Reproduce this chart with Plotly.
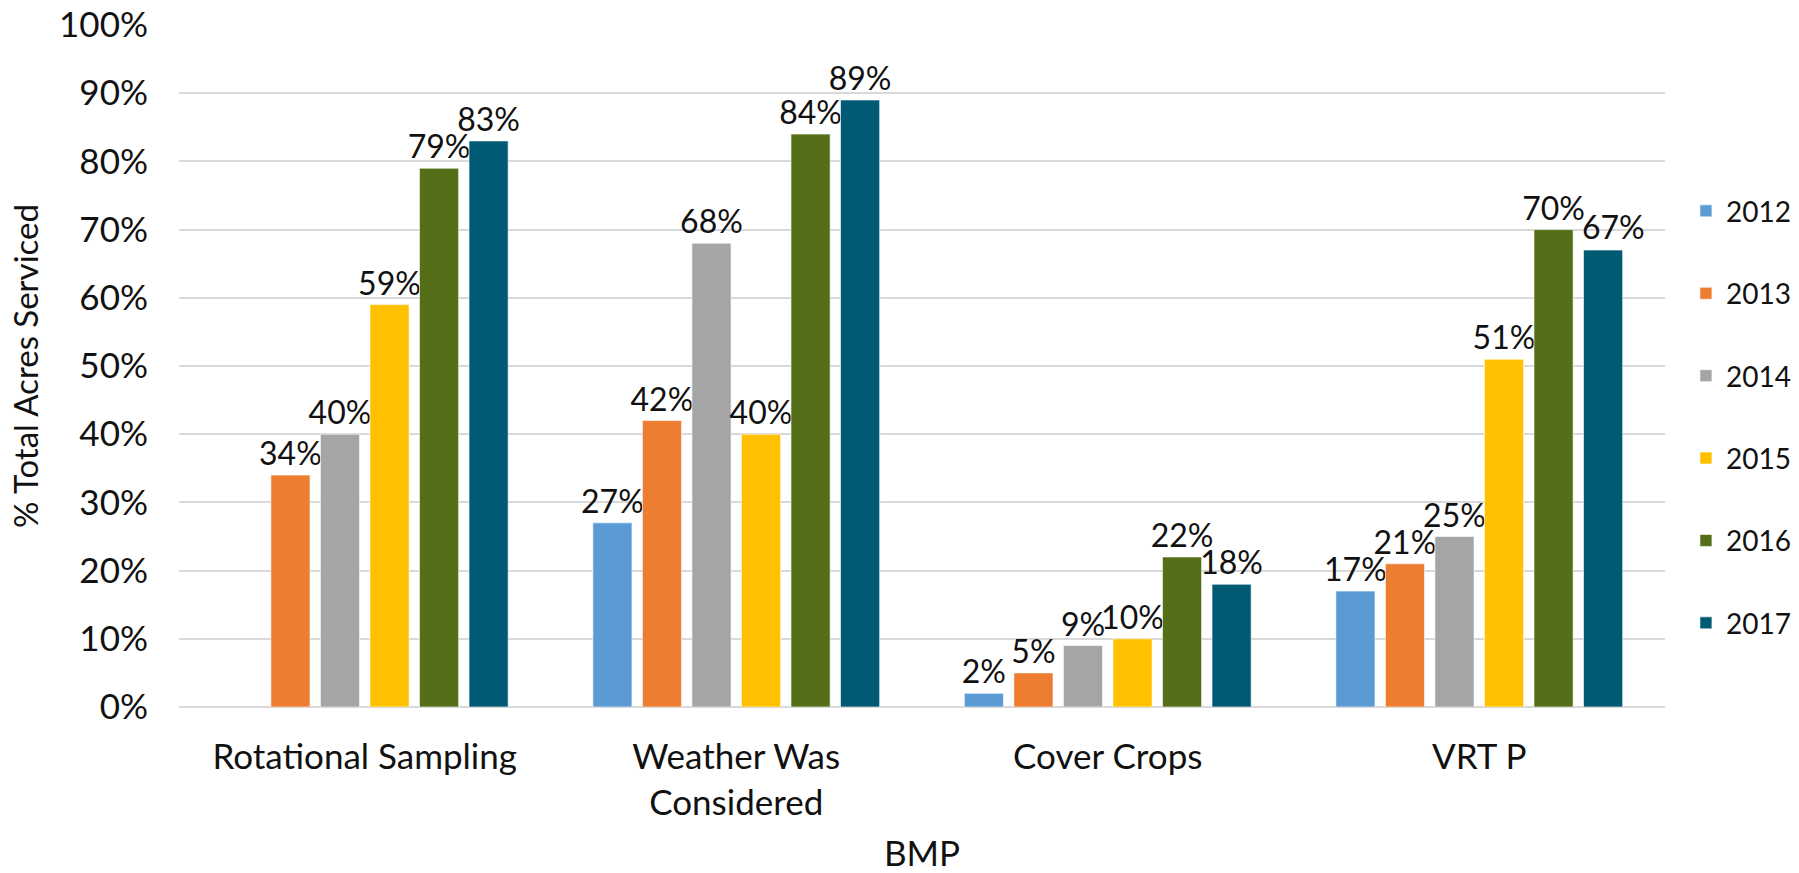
import plotly.graph_objects as go

# Share of total acres serviced, by BMP and survey year
categories = ["Rotational Sampling", "Weather Was<br>Considered", "Cover Crops", "VRT P"]
years = ["2012", "2013", "2014", "2015", "2016", "2017"]
share_2012 = [None, 0.27, 0.02, 0.17]
share_2013 = [0.34, 0.42, 0.05, 0.21]
share_2014 = [0.40, 0.68, 0.09, 0.25]
share_2015 = [0.59, 0.40, 0.10, 0.51]
share_2016 = [0.79, 0.84, 0.22, 0.70]
share_2017 = [0.83, 0.89, 0.18, 0.67]
y_ticks = [0, 0.1, 0.2, 0.3, 0.4, 0.5, 0.6, 0.7, 0.8, 0.9, 1.0]

series = [share_2012, share_2013, share_2014, share_2015, share_2016, share_2017]
colors = ["#5B9BD5", "#ED7D31", "#A5A5A5", "#FFC000", "#556F19", "#005A73"]

FONT = "Lato, 'Open Sans', sans-serif"
TXT = "#111111"

# bar layout: 4 categories, 6 bars each
BARGAP = 0.2
PLOT_L, PLOT_R = 179, 134
FIG_W = 1799
cat_px = (FIG_W - PLOT_L - PLOT_R) / len(categories)
slot_px = cat_px * (1 - BARGAP) / len(years)

fig = go.Figure()
for i, (year, vals, col) in enumerate(zip(years, series, colors)):
    # the VRT P 2017 label is nudged sideways so it clears the 2016 label
    labels = ["" if v is None else f"{v:.0%}" for v in vals]
    if year == "2017":
        labels[3] = ""
    fig.add_trace(go.Bar(
        name=year,
        x=categories,
        y=vals,
        marker=dict(color=col, line=dict(color="rgba(255,255,255,0.6)", width=1)),
        text=labels,
        texttemplate="%{text}",
        textposition="outside",
        constraintext="none",
        cliponaxis=False,
        textfont=dict(family=FONT, size=32, color=TXT),
        legendgroup=year,
        hoverinfo="skip",
    ))

# nudged label for VRT P, 2017
fig.add_annotation(
    x=categories[3], y=share_2017[3],
    text=f"{share_2017[3]:.0%}",
    showarrow=False,
    xanchor="center", yanchor="bottom",
    xshift=2.5 * slot_px + 10, yshift=2,
    font=dict(family=FONT, size=32, color=TXT),
)

fig.update_layout(
    width=FIG_W,
    height=873,
    margin=dict(l=PLOT_L, r=PLOT_R, t=25, b=166, autoexpand=False),
    paper_bgcolor="white",
    plot_bgcolor="white",
    barmode="group",
    bargap=BARGAP,
    bargroupgap=0.21,
    font=dict(family=FONT, size=33, color=TXT),
    legend=dict(
        x=1.0141, xanchor="left",
        y=0.425, yanchor="middle",
        font=dict(family=FONT, size=28, color=TXT),
        tracegroupgap=43,
        bgcolor="rgba(0,0,0,0)",
    ),
    xaxis=dict(
        title=dict(text="BMP", font=dict(family=FONT, size=35, color=TXT), standoff=20),
        tickfont=dict(family=FONT, size=35, color=TXT),
        showgrid=False,
        showline=False,
        ticks="",
        ticklabelstandoff=26,
        automargin=False,
    ),
    yaxis=dict(
        title=dict(text="% Total Acres Serviced", font=dict(family=FONT, size=33, color=TXT), standoff=10),
        range=[0, 1],
        tickvals=y_ticks,
        tickformat=".0%",
        tickfont=dict(family=FONT, size=35, color=TXT),
        showgrid=True,
        gridcolor="#D9D9D9",
        gridwidth=2,
        zeroline=True,
        zerolinecolor="#D9D9D9",
        zerolinewidth=2,
        showline=False,
        ticks="",
        ticklabelstandoff=30,
        automargin=False,
    ),
)

fig.write_html("out.html")
